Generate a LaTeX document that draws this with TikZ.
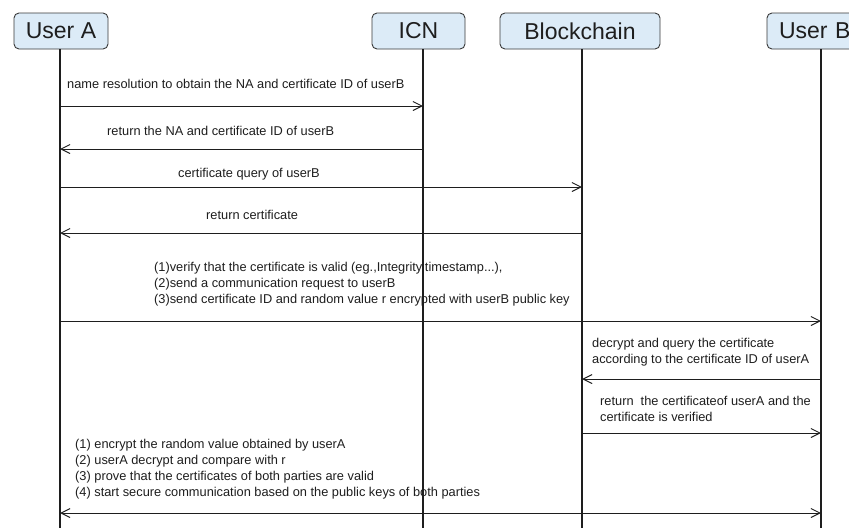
\documentclass[tikz,border=0pt]{standalone}
\usepackage{fontspec}
\setmainfont{Liberation Sans}
\usetikzlibrary{arrows.meta}

\definecolor{boxfill}{HTML}{DCEBF7}
\definecolor{boxline}{HTML}{3A3A3A}
\definecolor{ink}{HTML}{1E1E1E}

\tikzset{
  actor/.style={draw=boxline, fill=boxfill, rounded corners=5pt, line width=0.9pt,
                minimum height=36pt, inner sep=0pt, text=ink,
                font=\fontsize{23}{26}\selectfont},
  lifeline/.style={draw=ink, line width=1.4pt},
  msg/.style={draw=ink, line width=1pt, -{Straight Barb[length=9pt,width=9pt,line width=1pt]}},
  dmsg/.style={draw=ink, line width=1pt, {Straight Barb[length=9pt,width=9pt,line width=1pt]}-{Straight Barb[length=9pt,width=9pt,line width=1pt]}},
  label/.style={inner sep=0pt, text=ink, font=\fontsize{12.8}{16}\selectfont, align=left},
}

\begin{document}
\begin{tikzpicture}[x=1pt, y=-1pt]
  \useasboundingbox (0,0) rectangle (849,528);
  \clip (0,0) rectangle (849,528);
  \fill[white] (0,0) rectangle (849,528);

  % participants
  \node[actor, minimum width=94pt]  (ua) at (61,31)    {User A};
  \node[actor, minimum width=93pt]  (icn) at (418.5,31) {ICN};
  \node[actor, minimum width=160pt] (bc) at (580,31)   {Blockchain};
  \node[actor, inner xsep=12pt, text width=96pt, align=left] (ub) at (827,31) {User B};

  % lifelines
  \coordinate (la) at (60,49);   \coordinate (laE) at (60,528);
  \coordinate (li) at (423,49);  \coordinate (liE) at (423,528);
  \coordinate (lc) at (582,49);  \coordinate (lcE) at (582,528);
  \coordinate (lb) at (821,49);  \coordinate (lbE) at (821,528);

  % message labels
  \node[label, anchor=west] (t1) at (67,84)  {name resolution to obtain the NA and certificate ID of userB};
  \node[label, anchor=west] (t2) at (107,131) {return the NA and certificate ID of userB};
  \node[label, anchor=west] (t3) at (178,174) {certificate query of userB};
  \node[label, anchor=west] (t4) at (206,215) {return certificate};
  \node[label, anchor=north west] (t5) at (154,262) {(1)verify that the certificate is valid (eg.,Integrity,timestamp...),\\
    (2)send a communication request to userB\\
    (3)send certificate ID and random value r encrypted with userB public key};
  \node[label, anchor=north west] (t6) at (592,338) {decrypt and query the certificate\\
    according to the certificate ID of userA};
  \node[label, anchor=north west] (t7) at (600,396) {return \ the certificateof userA and the\\
    certificate is verified};
  \node[label, anchor=north west] (t8) at (75,439) {(1) encrypt the random value obtained by userA\\
    (2) userA decrypt and compare with r\\
    (3) prove that the certificates of both parties are valid\\
    (4) start secure communication based on the public keys of both parties};

  % lifelines over the labels
  \draw[lifeline] (la) -- (laE);
  \draw[lifeline] (li) -- (liE);
  \draw[lifeline] (lc) -- (lcE);
  \draw[lifeline] (lb) -- (lbE);

  % messages
  \draw[msg] (la |- 0,106) -- (li |- 0,106);
  \draw[msg] (li |- 0,149) -- (la |- 0,149);
  \draw[msg] (la |- 0,187) -- (lc |- 0,187);
  \draw[msg] (lc |- 0,233) -- (la |- 0,233);
  \draw[msg] (la |- 0,321) -- (lb |- 0,321);
  \draw[msg] (lb |- 0,379) -- (lc |- 0,379);
  \draw[msg] (lc |- 0,433) -- (lb |- 0,433);
  \draw[dmsg] (la |- 0,513) -- (lb |- 0,513);
\end{tikzpicture}
\end{document}
